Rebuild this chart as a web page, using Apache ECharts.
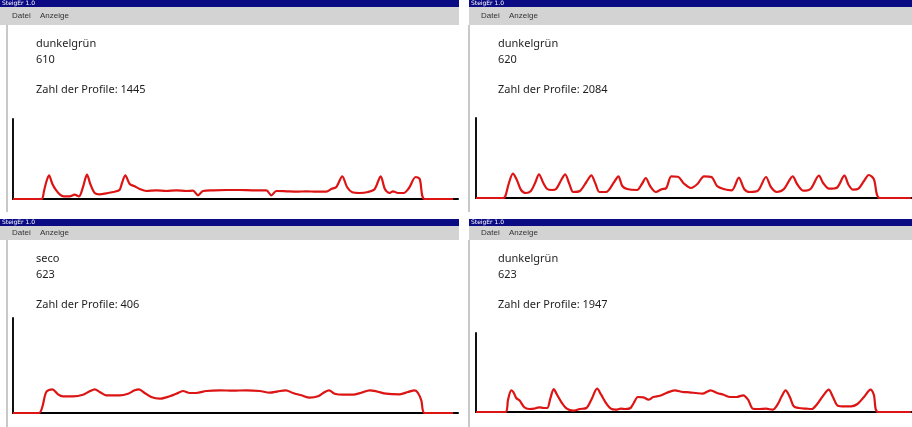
<!DOCTYPE html>
<html>
<head>
<meta charset="utf-8">
<script src="https://cdn.jsdelivr.net/npm/echarts@6/dist/echarts.min.js"></script>
<style>
  html, body { margin: 0; padding: 0; background: #ffffff; }
  #chart { width: 912px; height: 427px; }
</style>
</head>
<body>
<div id="chart"></div>
<script>
// Window captions and labels of the four profile windows
const fensterTitel = 'SteigEr 1.0';
const menuEintraege = ['Datei', 'Anzeige'];
const sorten = ['dunkelgrün', 'dunkelgrün', 'seco', 'dunkelgrün'];
const nummern = ['610', '620', '623', '623'];
const profilAnzahl = [1445, 2084, 406, 1947];

// Averaged profiles: position along the axis and profile height
const pos610 = [0, 28.3, 31, 33, 36, 39.3, 42.7, 46.7, 50.7, 56.7, 61.7, 66, 70, 74, 77.3, 81.7, 86.7, 93.3, 101.7, 106.7, 108.7, 112.3, 116.7, 121.7, 126.7, 133.3, 143.3, 153.3, 163.3, 173.3, 180, 185, 190, 200, 213.3, 226.7, 240, 253.3, 258.3, 263.3, 273.3, 283.3, 293.3, 303.3, 313.3, 318.3, 323.3, 329.3, 334, 339.3, 346.7, 355, 361.7, 367.7, 372, 376.7, 380, 385, 390.7, 396, 402.7, 406.7, 411.7, 440];
const val610 = [0, 0, 8, 16, 23.7, 15.3, 9.3, 4.7, 2.7, 2.7, 4.3, 2.7, 12, 24.3, 15, 6, 4.7, 5.7, 7.3, 9.3, 15, 23.7, 15, 12.7, 10, 8, 8.7, 8, 8.7, 8, 8.3, 3.7, 8, 8.7, 9, 9, 8.7, 8.7, 3.7, 8, 7.7, 7.3, 7.7, 7.3, 7.3, 10, 12, 22.7, 12, 6.7, 6, 7, 10, 22.7, 9.7, 6, 7.7, 6, 6, 11, 22, 20, 0, 0];

const pos620 = [0, 27.7, 30, 33.3, 37.7, 41.7, 46, 51, 56, 60.3, 64.3, 68.7, 72.7, 77.7, 81.7, 87, 91, 95.3, 99.3, 106, 112.7, 117.7, 121.7, 126, 132.7, 141, 145.3, 149.3, 154.3, 164.3, 169.3, 173.3, 177.7, 183.7, 189.3, 194.3, 199.3, 206, 212.7, 219.3, 226, 232.7, 240.3, 246, 252.7, 261, 268.3, 273.7, 279.3, 287.7, 296, 301, 307, 314.3, 323.3, 327.7, 334.3, 341.7, 350, 354.3, 360.3, 368.3, 376, 380.3, 385, 390.3, 396, 401, 406, 412, 444];
const val620 = [0, 0, 2, 14, 24.3, 18, 8, 5, 7, 15, 23.7, 15, 9, 8, 9, 18, 23.7, 14, 6, 7, 16, 22.7, 15, 6, 6, 16, 21.7, 12, 9, 8, 14, 20, 12, 6, 8.7, 10, 21.7, 21.3, 14, 10, 14, 21.7, 21, 12, 9, 7.7, 20.3, 9, 6, 7.3, 21, 11, 6, 9, 21.7, 14, 7.3, 9.3, 22.3, 15, 9.3, 10.3, 22.3, 13, 8.3, 9.3, 17, 23, 19, 0, 0];

const posSeco623 = [0, 26, 29.3, 33.3, 39.3, 45, 50, 60, 70, 76.7, 81.7, 86.7, 93.3, 106.7, 115, 121.7, 126, 131.7, 138.3, 146.7, 156.7, 163.3, 170, 176.7, 183.3, 193.3, 206.7, 220, 233.3, 246.7, 256.7, 265, 272.7, 280, 288.3, 296.7, 305, 311.7, 316, 321.7, 330, 340, 348.3, 356.7, 363.3, 373.3, 386.7, 395, 401.7, 405, 408.3, 411.7, 440];
const valSeco623 = [0, 0, 6, 21, 23.7, 18.7, 16.7, 16.7, 18.3, 21.7, 23.7, 21, 17.7, 17.7, 19.3, 22.7, 23.7, 20, 16, 14.3, 16.7, 19.3, 22, 20, 20, 22, 22.7, 22.3, 22.7, 22, 20.3, 21.7, 22.7, 20, 17.7, 15.3, 16.7, 21, 22.7, 19.3, 18.3, 18.3, 20.3, 22.7, 21.7, 19.3, 18.7, 21, 22.7, 20, 12.7, 0, 0];

const pos623 = [0, 30, 32.7, 36, 38.3, 41, 44.3, 49.3, 54.3, 59.3, 64.3, 69.3, 72.7, 76, 79.3, 82.7, 87.7, 92.7, 99.3, 106, 112.7, 117.7, 123.7, 127.7, 132.7, 137.7, 142.7, 147.7, 152.7, 157.7, 161, 165.3, 171, 176, 181, 187.7, 194.3, 202.7, 211, 217.7, 224.3, 231, 239.3, 246, 252.7, 259.3, 266, 272.7, 277.7, 282.7, 289.3, 296, 302.7, 307.7, 312, 316, 320.3, 324.3, 329.3, 337.7, 342.7, 347.7, 354.3, 360, 364.3, 369.3, 376, 382.7, 389.3, 396, 402.7, 406, 410.3, 444];
const val623 = [0, 0, 12.3, 21.7, 19.7, 14, 11.7, 4.7, 3, 3.3, 4.7, 4, 4, 14, 23, 17.3, 9, 3.3, 1.3, 3, 4, 12.3, 23.3, 17.3, 9, 3.3, 2.3, 3.3, 3, 4, 9, 15, 14.7, 12.3, 15, 16.3, 19, 21.7, 20, 19.7, 19, 18.3, 21.7, 19, 17.3, 15, 15, 16.7, 12.3, 3.3, 3, 3.3, 2.3, 7.3, 15.7, 21.7, 15, 5.7, 4, 3.3, 3, 7.3, 16.3, 22.3, 15, 6.3, 5.7, 5.7, 8, 15, 22.3, 17.3, 0, 0];

const profile = [
  { pos: pos610, val: val610 },
  { pos: pos620, val: val620 },
  { pos: posSeco623, val: valSeco623 },
  { pos: pos623, val: val623 }
];

// Window layout: plot area and text block of each window
const fenster = [
  { x: 0,   w: 459, barTop: 0,   barH: 7, menuTop: 7,   menuH: 18, border: 7,   textX: 36,  textY: [44, 59.5, 89.5],
    grid: { left: 13,  top: 119, width: 445, height: 80 }, yMax: 80 },
  { x: 469, w: 443, barTop: 0,   barH: 7, menuTop: 7,   menuH: 18, border: 469, textX: 498, textY: [44, 59.5, 89.5],
    grid: { left: 476, top: 118, width: 445, height: 80 }, yMax: 80 },
  { x: 0,   w: 459, barTop: 219, barH: 7, menuTop: 226, menuH: 14, border: 7,   textX: 36,  textY: [259, 274.5, 304.5],
    grid: { left: 13,  top: 318, width: 445, height: 95 }, yMax: 95 },
  { x: 469, w: 443, barTop: 219, barH: 7, menuTop: 226, menuH: 14, border: 469, textX: 498, textY: [259, 274.5, 304.5],
    grid: { left: 476, top: 333, width: 445, height: 79 }, yMax: 79 }
];

const textFont = '"Noto Sans", "Liberation Sans", sans-serif';
const grids = [], xAxes = [], yAxes = [], series = [], graphics = [];

fenster.forEach((f, i) => {
  grids.push(Object.assign({ containLabel: false }, f.grid));
  xAxes.push({
    type: 'value', gridIndex: i, min: 0, max: 445,
    axisLine: { show: true, lineStyle: { color: '#000000', width: 2 } },
    axisTick: { show: false }, axisLabel: { show: false }, splitLine: { show: false }
  });
  yAxes.push({
    type: 'value', gridIndex: i, min: 0, max: f.yMax,
    axisLine: { show: true, lineStyle: { color: '#111111', width: 2 } },
    axisTick: { show: false }, axisLabel: { show: false }, splitLine: { show: false }
  });
  const p = profile[i];
  series.push({
    type: 'line', xAxisIndex: i, yAxisIndex: i,
    data: p.pos.map((x, k) => [x, p.val[k]]),
    showSymbol: false, smooth: 0.3, silent: true,
    lineStyle: { color: '#dd1414', width: 2.2 },
    z: 3
  });

  // caption bar, menu bar and window frame
  graphics.push(
    { type: 'rect', shape: { x: f.x, y: f.barTop, width: f.w, height: f.barH }, style: { fill: '#0b0b84' }, silent: true },
    { type: 'text', x: f.x + 2, y: f.barTop + f.barH / 2,
      style: { text: fensterTitel, fill: '#ffffff', font: '6px "DejaVu Sans", sans-serif', verticalAlign: 'middle' }, silent: true },
    { type: 'rect', shape: { x: f.x, y: f.menuTop, width: f.w, height: f.menuH }, style: { fill: '#d3d3d3' }, silent: true },
    { type: 'text', x: f.x + 12, y: f.menuTop + f.menuH / 2,
      style: { text: menuEintraege[0], fill: '#333333', font: '8px "Liberation Sans", sans-serif', verticalAlign: 'middle' }, silent: true },
    { type: 'text', x: f.x + 40, y: f.menuTop + f.menuH / 2,
      style: { text: menuEintraege[1], fill: '#333333', font: '8px "Liberation Sans", sans-serif', verticalAlign: 'middle' }, silent: true },
    { type: 'rect', shape: { x: f.border - 1, y: f.menuTop + f.menuH, width: 2, height: (i < 2 ? 212 : 427) - (f.menuTop + f.menuH) },
      style: { fill: '#c8c8c8' }, silent: true },
    { type: 'text', x: f.textX, y: f.textY[0],
      style: { text: sorten[i], fill: '#1e1e1e', font: '11px ' + textFont, verticalAlign: 'middle' }, silent: true },
    { type: 'text', x: f.textX, y: f.textY[1],
      style: { text: nummern[i], fill: '#1e1e1e', font: '11px ' + textFont, verticalAlign: 'middle' }, silent: true },
    { type: 'text', x: f.textX, y: f.textY[2],
      style: { text: 'Zahl der Profile: ' + profilAnzahl[i], fill: '#1e1e1e', font: '11px ' + textFont, verticalAlign: 'middle' }, silent: true }
  );
});

const chart = echarts.init(document.getElementById('chart'), null, { renderer: 'canvas' });
chart.setOption({
  animation: false,
  backgroundColor: '#ffffff',
  grid: grids,
  xAxis: xAxes,
  yAxis: yAxes,
  series: series,
  graphic: { elements: graphics }
});
</script>
</body>
</html>
